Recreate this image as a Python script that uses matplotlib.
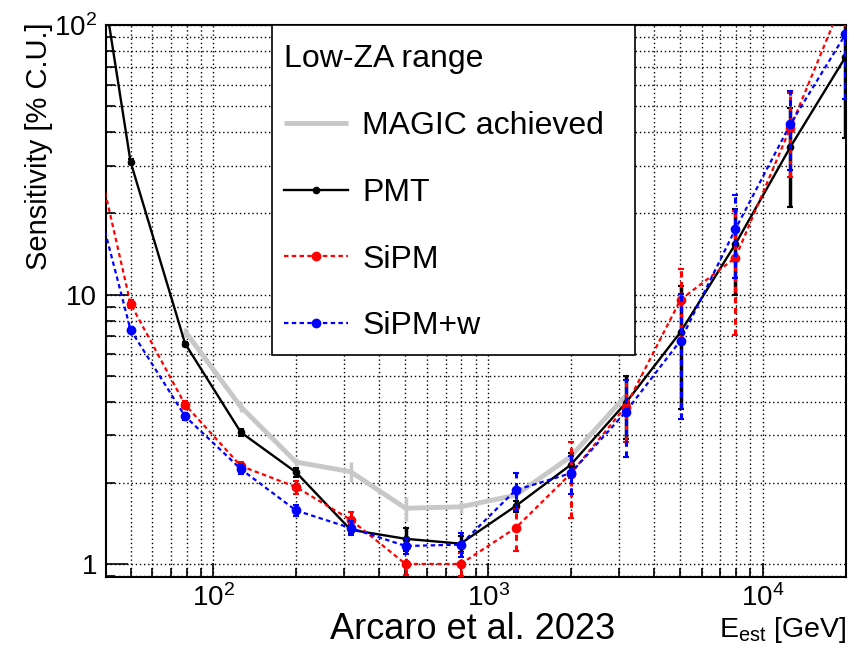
import numpy as np
import matplotlib
matplotlib.use('Agg')
import matplotlib.pyplot as plt
import matplotlib.ticker as ticker
from matplotlib.patches import Rectangle

plt.rcParams['font.family'] = ['Liberation Sans', 'DejaVu Sans']
plt.rcParams['mathtext.fontset'] = 'custom'
plt.rcParams['mathtext.rm'] = 'Liberation Sans'
plt.rcParams['mathtext.it'] = 'Liberation Sans:italic'

# estimated energy bin centres [GeV], 5 bins per decade
energy = [31.6, 50, 79, 126, 200, 316, 501, 794, 1259, 1995, 3162, 5012, 7943, 12589, 19953]

# sensitivity [% C.U.]
pmt = [620, 31.1, 6.57, 3.08, 2.19, 1.34, 1.24, 1.19, 1.64, 2.33, 3.95, 7.25, 15.4, 35.3, 76.0]
pmt_err = [0, 0.6, 0.12, 0.1, 0.08, 0.05, 0.12, 0.08, 0.08, 0.25, 1.05, 3.5, 5.4, 14.1, 38.0]

sipm = [72, 9.24, 3.90, 2.31, 1.93, 1.46, 1.0, 1.0, 1.36, 2.16, 3.83, 9.56, 13.7, 41.6, 130]
sipm_err = [0, 0.3, 0.12, 0.08, 0.11, 0.1, 0.09, 0.1, 0.24, 0.68, 1.0, 2.85, 6.65, 14.4, 40]

sipm_w = [45, 7.4, 3.53, 2.25, 1.58, 1.36, 1.166, 1.18, 1.88, 2.17, 3.66, 6.75, 17.5, 42.9, 92.3]
sipm_w_err = [0, 0.2, 0.1, 0.1, 0.07, 0.08, 0.08, 0.12, 0.29, 0.35, 1.16, 3.3, 6.0, 14.0, 39.0]

magic_energy = [79, 126, 200, 316, 501, 794, 1259, 1995, 3162]
magic = [7.3, 3.83, 2.39, 2.20, 1.61, 1.63, 1.80, 2.50, 4.20]
magic_err = [0.2, 0.15, 0.08, 0.19, 0.16, 0.08, 0.05, 0.05, 0.1]

fig = plt.figure(figsize=(8.58, 6.48), dpi=100)
ax = fig.add_axes([0.1235, 0.1096, 0.8625, 0.8518])

ax.set_xscale('log')
ax.set_yscale('log')
ax.set_xlim(40.7, 20050)
ax.set_ylim(0.895, 100)

# ROOT-like dotted grid on every tick
ax.grid(True, which='both', color='black', linestyle=(0, (1, 2)), linewidth=1.0, zorder=0)
ax.set_axisbelow(True)

# reference curve
ax.errorbar(magic_energy, magic, yerr=magic_err, fmt='none', ecolor='#c8c8c8',
            elinewidth=2.5, capsize=0, zorder=2)
h_magic, = ax.plot(magic_energy, magic, color='#c8c8c8', lw=3.5, zorder=2,
                   solid_capstyle='butt')

# PMT camera
ax.errorbar(energy, pmt, yerr=pmt_err, fmt='none', ecolor='black',
            elinewidth=2.5, capsize=2.5, capthick=1.5, zorder=3)
h_pmt, = ax.plot(energy, pmt, color='black', lw=1.7, marker='o', ms=4.5, zorder=3)

# SiPM cameras
eb = ax.errorbar(energy, sipm, yerr=sipm_err, fmt='none', ecolor='red',
                 elinewidth=2.2, capsize=2.5, capthick=1.5, zorder=4)
eb[2][0].set_linestyle((0, (2, 1.5)))
h_sipm, = ax.plot(energy, sipm, color='red', lw=1.6, ls=(0, (2, 1.5)),
                  marker='o', ms=6, zorder=4)

eb = ax.errorbar(energy, sipm_w, yerr=sipm_w_err, fmt='none', ecolor='blue',
                 elinewidth=2.2, capsize=2.5, capthick=1.5, zorder=5)
eb[2][0].set_linestyle((0, (2, 1.5)))
h_sipm_w, = ax.plot(energy, sipm_w, color='blue', lw=1.6, ls=(0, (2, 1.5)),
                    marker='o', ms=6, zorder=5)

# axes styling
for sp in ax.spines.values():
    sp.set_linewidth(1.5)
ax.tick_params(which='both', direction='in', top=False, right=False, width=1.2,
               labelsize=20)
ax.tick_params(axis='y', which='major', length=16, pad=6.5)
ax.tick_params(axis='y', which='minor', length=6.5)
ax.tick_params(axis='x', which='major', length=10, pad=5.5)
ax.tick_params(axis='x', which='minor', length=6.5)


def pow_fmt(v, pos):
    e = int(round(np.log10(v)))
    if e == 0:
        return '1'
    if e == 1:
        return '10'
    return r'$\mathregular{10^{%d}}$' % e


ax.xaxis.set_major_formatter(ticker.FuncFormatter(pow_fmt))
ax.yaxis.set_major_formatter(ticker.FuncFormatter(pow_fmt))
ax.xaxis.set_minor_formatter(ticker.NullFormatter())
ax.yaxis.set_minor_formatter(ticker.NullFormatter())

ax.set_ylabel('Sensitivity [% C.U.]', fontsize=21, loc='top')
ax.yaxis.set_label_coords(-0.0716, 1.005)
ax.set_xlabel(r'E$_{\mathregular{est}}$ [GeV]', fontsize=20.5, loc='right')
ax.xaxis.set_label_coords(1.0, -0.069)

# legend box drawn separately so the inner padding can differ per side
box = Rectangle((0.2243, 0.4022), 0.4905, 0.5978, transform=ax.transAxes,
                facecolor='white', edgecolor='black', linewidth=1.2,
                zorder=9, clip_on=False)
ax.add_patch(box)

leg = ax.legend([h_magic, h_pmt, h_sipm, h_sipm_w],
                ['MAGIC achieved', 'PMT', 'SiPM', 'SiPM+w'],
                title='Low-ZA range', loc='upper left',
                bbox_to_anchor=(0.2405, 0.965),
                fontsize=23, title_fontsize=23, alignment='left',
                frameon=False, handlelength=2.0, handletextpad=0.45,
                labelspacing=1.15, borderpad=0, borderaxespad=0, numpoints=1)
leg.set_zorder(10)

fig.text(330 / 858, 1 - 639 / 648, 'Arcaro et al. 2023', fontsize=26, va='baseline')

fig.savefig('out.png', dpi=100)
